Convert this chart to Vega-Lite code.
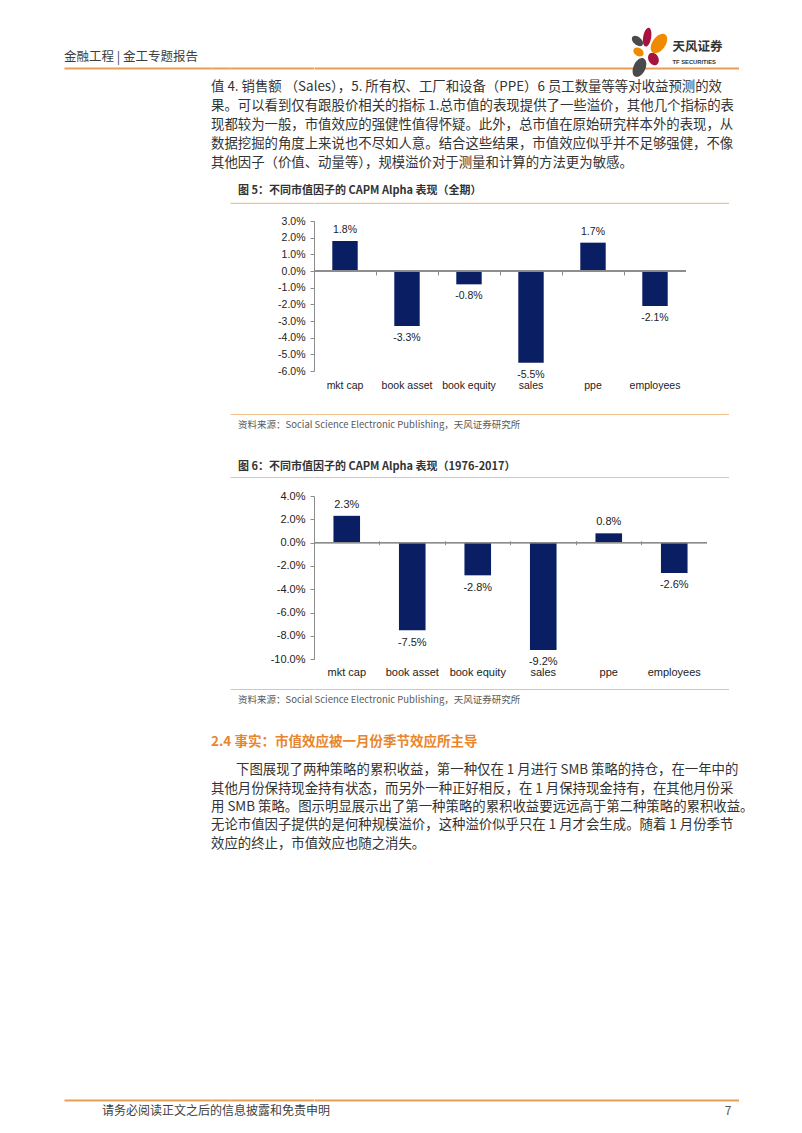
{
  "$schema": "https://vega.github.io/schema/vega-lite/v6.json",
  "background": "white",
  "autosize": {"type": "pad"},
  "padding": {"left": 64, "top": 0, "right": 0, "bottom": 0},
  "config": {
    "view": {"stroke": null},
    "axis": {"labelOverlap": false, "labelSeparation": 0},
    "axisY": {"labelOverlap": false},
    "axisQuantitative": {"labelOverlap": false},
    "locale": {"number": {"decimal": ".", "thousands": ",", "grouping": [3], "currency": ["", ""], "minus": "-"}},
    "text": {"font": "Noto Sans CJK SC"}
  },
  "datasets": {
    "alpha_full": [
      {"factor": "mkt cap", "alpha": 0.018},
      {"factor": "book asset", "alpha": -0.033},
      {"factor": "book equity", "alpha": -0.008},
      {"factor": "sales", "alpha": -0.055},
      {"factor": "ppe", "alpha": 0.017},
      {"factor": "employees", "alpha": -0.021}
    ],
    "alpha_1976": [
      {"factor": "mkt cap", "alpha": 0.023},
      {"factor": "book asset", "alpha": -0.075},
      {"factor": "book equity", "alpha": -0.028},
      {"factor": "sales", "alpha": -0.092},
      {"factor": "ppe", "alpha": 0.008},
      {"factor": "employees", "alpha": -0.026}
    ],
    "para1": [
      {"k": "p", "line": 1, "text": "值 4. 销售额 （Sales），5. 所有权、工厂和设备（PPE）6 员工数量等等对收益预测的效"},
      {"k": "p", "line": 2, "text": "果。可以看到仅有跟股价相关的指标 1.总市值的表现提供了一些溢价，其他几个指标的表"},
      {"k": "p", "line": 3, "text": "现都较为一般，市值效应的强健性值得怀疑。此外，总市值在原始研究样本外的表现，从"},
      {"k": "p", "line": 4, "text": "数据挖掘的角度上来说也不尽如人意。结合这些结果，市值效应似乎并不足够强健，不像"},
      {"k": "p", "line": 5, "text": "其他因子（价值、动量等），规模溢价对于测量和计算的方法更为敏感。"}
    ],
    "para2": [
      {"k": "p", "line": 1, "text": "下图展现了两种策略的累积收益，第一种仅在 1 月进行 SMB 策略的持仓，在一年中的"},
      {"k": "p", "line": 2, "text": "其他月份保持现金持有状态，而另外一种正好相反，在 1 月保持现金持有，在其他月份采"},
      {"k": "p", "line": 3, "text": "用 SMB 策略。图示明显展示出了第一种策略的累积收益要远远高于第二种策略的累积收益。"},
      {"k": "p", "line": 4, "text": "无论市值因子提供的是何种规模溢价，这种溢价似乎只在 1 月才会生成。随着 1 月份季节"},
      {"k": "p", "line": 5, "text": "效应的终止，市值效应也随之消失。"}
    ],
    "logo": [
      {"k": "logo", "part": "crimson"},
      {"k": "logo", "part": "orange"},
      {"k": "logo", "part": "gray"}
    ],
    "seg": [{"k": "s"}]
  },
  "columns": 4,
  "spacing": 0,
  "bounds": "flush",
  "align": "none",
  "concat": [
    {"width": 147, "height": 46, "data": {"values": []}, "mark": "point"},
    {"width": 19, "height": 46, "data": {"values": []}, "mark": "point"},
    {"width": 83.5, "height": 46, "data": {"values": []}, "mark": "point"},
    {"width": 1, "height": 46, "data": {"values": []}, "mark": "point"},

    {
      "width": 147, "height": 22,
      "data": {"values": [{"k": "h", "text": "金融工程 | 金工专题报告"}]},
      "mark": {"type": "text", "align": "left", "font": "Noto Sans CJK SC", "fontSize": 12.5, "color": "#3d3d3d"},
      "encoding": {
        "x": {"field": "k", "type": "nominal", "scale": {"type": "point", "padding": 0, "align": 0}, "axis": {"orient": "bottom", "title": null, "labels": false, "ticks": false, "domain": true, "domainColor": "#E89E52", "domainWidth": 2, "grid": false}},
        "text": {"field": "text"}
      }
    },
    {"width": 19, "height": 22, "data": {"name": "seg"}, "mark": {"type": "text", "text": ""},
      "encoding": {"x": {"field": "k", "type": "nominal", "scale": {"type": "point"}, "axis": {"orient": "bottom", "title": null, "labels": false, "ticks": false, "domain": true, "domainColor": "#E89E52", "domainWidth": 2, "grid": false}}}},
    {"width": 83.5, "height": 22, "data": {"name": "seg"}, "mark": {"type": "text", "text": ""},
      "encoding": {"x": {"field": "k", "type": "nominal", "scale": {"type": "point"}, "axis": {"orient": "bottom", "title": null, "labels": false, "ticks": false, "domain": true, "domainColor": "#E89E52", "domainWidth": 2, "grid": false}}}},
    {
      "width": 424.5, "height": 22,
      "resolve": {"scale": {"x": "independent"}, "axis": {"x": "independent"}},
      "layer": [
        {
          "data": {"name": "logo"},
          "mark": {"type": "point", "filled": true, "opacity": 1, "size": 1600, "strokeWidth": 0},
          "encoding": {
            "x": {"field": "k", "type": "nominal", "scale": {"type": "point", "padding": 0, "align": 0.795}, "axis": {"orient": "bottom", "title": null, "labels": false, "ticks": false, "domain": true, "domainColor": "#E89E52", "domainWidth": 2, "grid": false}},
            "shape": {"field": "part", "type": "nominal", "legend": null, "scale": {"domain": ["crimson", "orange", "gray"], "range": [
              "M -0.1325 -1.4578 A 0.2 0.475 10 0 1 -0.2975 -0.5222 A 0.2 0.475 10 0 1 -0.1325 -1.4578 Z M -0.0625 -0.1815 A 0.25 0.325 -30 0 1 0.2625 0.3815 A 0.25 0.325 -30 0 1 -0.0625 -0.1815 Z",
              "M 0.6905 -1.1256 A 0.325 0.55 35 0 1 0.0595 -0.2244 A 0.325 0.55 35 0 1 0.6905 -1.1256 Z M -0.8882 -0.3875 A 0.2 0.275 -60 0 1 -0.4118 -0.1125 A 0.2 0.275 -60 0 1 -0.8882 -0.3875 Z",
              "M -0.949 -1.0089 A 0.2 0.325 -50 0 1 -0.451 -0.5911 A 0.2 0.325 -50 0 1 -0.949 -1.0089 Z M -0.3887 0.0718 A 0.3 0.5 25 0 1 -0.8113 0.9782 A 0.3 0.5 25 0 1 -0.3887 0.0718 Z"
            ]}},
            "color": {"field": "part", "type": "nominal", "legend": null, "scale": {"domain": ["crimson", "orange", "gray"], "range": ["#A8123E", "#F08A00", "#4A4A4A"]}}
          }
        },
        {
          "data": {"values": [{"k": "l", "cn": "天风证券", "en": "TF SECURITIES"}]},
          "encoding": {
            "x": {"field": "k", "type": "nominal", "scale": {"type": "point", "padding": 0, "align": 0.8445}, "axis": null}
          },
          "layer": [
            {"mark": {"type": "text", "align": "left", "dy": -10, "font": "Noto Sans CJK SC", "fontSize": 12.5, "fontWeight": "bold", "color": "#333333"}, "encoding": {"text": {"field": "cn"}}},
            {"mark": {"type": "text", "align": "left", "dy": 5, "font": "Liberation Sans", "fontSize": 5.8, "fontWeight": "bold", "color": "#333333"}, "encoding": {"text": {"field": "en"}}}
          ]
        }
      ]
    },

    {"width": 147, "height": 113.6, "data": {"values": []}, "mark": "point"},
    {
      "width": 19, "height": 113.6,
      "data": {"name": "para1"},
      "mark": {"type": "text", "align": "left", "font": "Noto Sans CJK SC", "fontSize": 13.4, "color": "#333333"},
      "encoding": {
        "x": {"field": "k", "type": "nominal", "scale": {"type": "point", "padding": 0, "align": 0}, "axis": null},
        "y": {"field": "line", "type": "ordinal", "axis": null, "scale": {"type": "point", "padding": 1.087}},
        "text": {"field": "text"}
      }
    },
    {"width": 83.5, "height": 113.6, "data": {"values": []}, "mark": "point"},
    {"width": 1, "height": 113.6, "data": {"values": []}, "mark": "point"},

    {"width": 147, "height": 20.9, "data": {"values": []}, "mark": "point"},
    {"width": 19, "height": 20.9, "data": {"values": []}, "mark": "point"},
    {
      "width": 83.5, "height": 20.9,
      "data": {"values": [{"k": "t", "text": "图 5：不同市值因子的 CAPM Alpha 表现（全期）"}]},
      "mark": {"type": "text", "align": "left", "dx": 8, "dy": -1, "font": "Noto Sans CJK SC", "fontSize": 11, "fontWeight": "bold", "color": "#333333"},
      "encoding": {
        "x": {"field": "k", "type": "nominal", "scale": {"type": "point", "padding": 0, "align": 0}, "axis": {"orient": "bottom", "title": null, "labels": false, "ticks": false, "domain": true, "domainColor": "#F2C08F", "domainWidth": 1.2, "grid": false}},
        "text": {"field": "text"}
      }
    },
    {"width": 414.5, "height": 20.9, "data": {"name": "seg"}, "mark": {"type": "text", "text": ""},
      "encoding": {"x": {"field": "k", "type": "nominal", "scale": {"type": "point"}, "axis": {"orient": "bottom", "title": null, "labels": false, "ticks": false, "domain": true, "domainColor": "#F2C08F", "domainWidth": 1.2, "grid": false}}}},

    {"width": 147, "height": 17.5, "data": {"values": []}, "mark": "point"},
    {"width": 19, "height": 17.5, "data": {"values": []}, "mark": "point"},
    {"width": 83.5, "height": 17.5, "data": {"values": []}, "mark": "point"},
    {"width": 1, "height": 17.5, "data": {"values": []}, "mark": "point"},

    {"width": 147, "height": 150, "data": {"values": []}, "mark": "point"},
    {"width": 19, "height": 150, "data": {"values": []}, "mark": "point"},
    {"width": 83.5, "height": 150, "data": {"values": []}, "mark": "point"},
    {
      "width": 372, "height": 150,
      "data": {"name": "alpha_full"},
      "resolve": {"axis": {"x": "independent"}},
      "layer": [
        {
          "mark": {"type": "bar", "color": "#0A1E64"},
          "encoding": {
            "x": {"field": "factor", "type": "nominal", "sort": null,
              "scale": {"domain": ["mkt cap", "book asset", "book equity", "sales", "ppe", "employees"], "paddingInner": 0.59, "paddingOuter": 0.295},
              "axis": {"orient": "bottom", "title": null, "domain": false, "ticks": false, "tickSize": 0, "labelPadding": 14, "labelBaseline": "middle", "labelAngle": 0, "labelFont": "Liberation Sans", "labelFontSize": 10.5, "labelColor": "#222222", "grid": false}},
            "y": {"field": "alpha", "type": "quantitative",
              "scale": {"domain": [-0.06, 0.03], "nice": false},
              "axis": {"title": null, "format": ".1%", "values": [-0.06, -0.05, -0.04, -0.03, -0.02, -0.01, 0, 0.01, 0.02, 0.03], "labelOverlap": false, "labelFlush": false, "grid": false, "domainColor": "#8C8C8C", "tickColor": "#8C8C8C", "tickSize": 4, "labelPadding": 5, "labelFont": "Liberation Sans", "labelFontSize": 10.5, "labelColor": "#222222"}}
          }
        },
        {"mark": {"type": "rule", "color": "#8C8C8C", "strokeWidth": 1}, "encoding": {"y": {"datum": 0, "type": "quantitative", "axis": {"title": null, "format": ".1%", "values": [-0.06, -0.05, -0.04, -0.03, -0.02, -0.01, 0, 0.01, 0.02, 0.03], "labelOverlap": false, "labelFlush": false, "grid": false, "domainColor": "#8C8C8C", "tickColor": "#8C8C8C", "tickSize": 4, "labelPadding": 5, "labelFont": "Liberation Sans", "labelFontSize": 10.5, "labelColor": "#222222"}}}},
        {
          "transform": [{"filter": "datum.alpha >= 0"}],
          "mark": {"type": "text", "dy": -11, "font": "Liberation Sans", "fontSize": 10.5, "color": "#222222"},
          "encoding": {
            "x": {"field": "factor", "type": "nominal", "sort": null, "axis": {"orient": "bottom", "offset": -100, "title": null, "labels": false, "domain": false, "ticks": true, "tickSize": 4, "tickColor": "#8C8C8C", "bandPosition": -0.7195, "grid": false}},
            "y": {"field": "alpha", "type": "quantitative", "axis": {"title": null, "format": ".1%", "values": [-0.06, -0.05, -0.04, -0.03, -0.02, -0.01, 0, 0.01, 0.02, 0.03], "labelOverlap": false, "labelFlush": false, "grid": false, "domainColor": "#8C8C8C", "tickColor": "#8C8C8C", "tickSize": 4, "labelPadding": 5, "labelFont": "Liberation Sans", "labelFontSize": 10.5, "labelColor": "#222222"}},
            "text": {"field": "alpha", "type": "quantitative", "format": ".1%"}
          }
        },
        {
          "transform": [{"filter": "datum.alpha < 0"}],
          "mark": {"type": "text", "dy": 12, "font": "Liberation Sans", "fontSize": 10.5, "color": "#222222"},
          "encoding": {
            "x": {"field": "factor", "type": "nominal", "sort": null, "axis": null},
            "y": {"field": "alpha", "type": "quantitative", "axis": {"title": null, "format": ".1%", "values": [-0.06, -0.05, -0.04, -0.03, -0.02, -0.01, 0, 0.01, 0.02, 0.03], "labelOverlap": false, "labelFlush": false, "grid": false, "domainColor": "#8C8C8C", "tickColor": "#8C8C8C", "tickSize": 4, "labelPadding": 5, "labelFont": "Liberation Sans", "labelFontSize": 10.5, "labelColor": "#222222"}},
            "text": {"field": "alpha", "type": "quantitative", "format": ".1%"}
          }
        }
      ]
    },

    {"width": 147, "height": 43, "data": {"values": []}, "mark": "point"},
    {"width": 19, "height": 43, "data": {"values": []}, "mark": "point"},
    {"width": 83.5, "height": 43, "data": {"values": []}, "mark": "point"},
    {"width": 1, "height": 43, "data": {"values": []}, "mark": "point"},

    {"width": 147, "height": 21, "data": {"values": []}, "mark": "point"},
    {"width": 19, "height": 21, "data": {"values": []}, "mark": "point"},
    {
      "width": 83.5, "height": 21,
      "data": {"values": [{"k": "s", "text": "资料来源：Social Science Electronic Publishing，天风证券研究所"}]},
      "mark": {"type": "text", "align": "left", "dx": 8, "font": "Noto Sans CJK SC", "fontSize": 9.5, "color": "#595959"},
      "encoding": {
        "x": {"field": "k", "type": "nominal", "scale": {"type": "point", "padding": 0, "align": 0}, "axis": {"orient": "top", "title": null, "labels": false, "ticks": false, "domain": true, "domainColor": "#F2C08F", "domainWidth": 1.2, "grid": false}},
        "text": {"field": "text"}
      }
    },
    {"width": 414.5, "height": 21, "data": {"name": "seg"}, "mark": {"type": "text", "text": ""},
      "encoding": {"x": {"field": "k", "type": "nominal", "scale": {"type": "point"}, "axis": {"orient": "top", "title": null, "labels": false, "ticks": false, "domain": true, "domainColor": "#F2C08F", "domainWidth": 1.2, "grid": false}}}},

    {"width": 147, "height": 21, "data": {"values": []}, "mark": "point"},
    {"width": 19, "height": 21, "data": {"values": []}, "mark": "point"},
    {"width": 83.5, "height": 21, "data": {"values": []}, "mark": "point"},
    {"width": 1, "height": 21, "data": {"values": []}, "mark": "point"},

    {"width": 147, "height": 21, "data": {"values": []}, "mark": "point"},
    {"width": 19, "height": 21, "data": {"values": []}, "mark": "point"},
    {
      "width": 83.5, "height": 21,
      "data": {"values": [{"k": "t", "text": "图 6：不同市值因子的 CAPM Alpha 表现（1976-2017）"}]},
      "mark": {"type": "text", "align": "left", "dx": 8, "font": "Noto Sans CJK SC", "fontSize": 11, "fontWeight": "bold", "color": "#333333"},
      "encoding": {
        "x": {"field": "k", "type": "nominal", "scale": {"type": "point", "padding": 0, "align": 0}, "axis": {"orient": "bottom", "title": null, "labels": false, "ticks": false, "domain": true, "domainColor": "#F2C08F", "domainWidth": 1.2, "grid": false}},
        "text": {"field": "text"}
      }
    },
    {"width": 414.5, "height": 21, "data": {"name": "seg"}, "mark": {"type": "text", "text": ""},
      "encoding": {"x": {"field": "k", "type": "nominal", "scale": {"type": "point"}, "axis": {"orient": "bottom", "title": null, "labels": false, "ticks": false, "domain": true, "domainColor": "#F2C08F", "domainWidth": 1.2, "grid": false}}}},

    {"width": 147, "height": 19, "data": {"values": []}, "mark": "point"},
    {"width": 19, "height": 19, "data": {"values": []}, "mark": "point"},
    {"width": 83.5, "height": 19, "data": {"values": []}, "mark": "point"},
    {"width": 1, "height": 19, "data": {"values": []}, "mark": "point"},

    {"width": 147, "height": 163.3, "data": {"values": []}, "mark": "point"},
    {"width": 19, "height": 163.3, "data": {"values": []}, "mark": "point"},
    {"width": 83.5, "height": 163.3, "data": {"values": []}, "mark": "point"},
    {
      "width": 393, "height": 163.3,
      "data": {"name": "alpha_1976"},
      "resolve": {"axis": {"x": "independent"}},
      "layer": [
        {
          "mark": {"type": "bar", "color": "#0A1E64"},
          "encoding": {
            "x": {"field": "factor", "type": "nominal", "sort": null,
              "scale": {"domain": ["mkt cap", "book asset", "book equity", "sales", "ppe", "employees"], "paddingInner": 0.594, "paddingOuter": 0.297},
              "axis": {"orient": "bottom", "title": null, "domain": false, "ticks": false, "tickSize": 0, "labelPadding": 13.4, "labelBaseline": "middle", "labelAngle": 0, "labelFont": "Liberation Sans", "labelFontSize": 11, "labelColor": "#222222", "grid": false}},
            "y": {"field": "alpha", "type": "quantitative",
              "scale": {"domain": [-0.1, 0.04], "nice": false},
              "axis": {"title": null, "format": ".1%", "values": [-0.1, -0.08, -0.06, -0.04, -0.02, 0, 0.02, 0.04], "labelOverlap": false, "labelFlush": false, "grid": false, "domainColor": "#8C8C8C", "tickColor": "#8C8C8C", "tickSize": 4, "labelPadding": 5, "labelFont": "Liberation Sans", "labelFontSize": 11, "labelColor": "#222222"}}
          }
        },
        {"mark": {"type": "rule", "color": "#8C8C8C", "strokeWidth": 1}, "encoding": {"y": {"datum": 0, "type": "quantitative", "axis": {"title": null, "format": ".1%", "values": [-0.1, -0.08, -0.06, -0.04, -0.02, 0, 0.02, 0.04], "labelOverlap": false, "labelFlush": false, "grid": false, "domainColor": "#8C8C8C", "tickColor": "#8C8C8C", "tickSize": 4, "labelPadding": 5, "labelFont": "Liberation Sans", "labelFontSize": 11, "labelColor": "#222222"}}}},
        {
          "transform": [{"filter": "datum.alpha >= 0"}],
          "mark": {"type": "text", "dy": -11, "font": "Liberation Sans", "fontSize": 11, "color": "#222222"},
          "encoding": {
            "x": {"field": "factor", "type": "nominal", "sort": null, "axis": {"orient": "bottom", "offset": -118.6, "title": null, "labels": false, "domain": false, "ticks": true, "tickSize": 4, "tickColor": "#8C8C8C", "bandPosition": -0.7315, "grid": false}},
            "y": {"field": "alpha", "type": "quantitative", "axis": {"title": null, "format": ".1%", "values": [-0.1, -0.08, -0.06, -0.04, -0.02, 0, 0.02, 0.04], "labelOverlap": false, "labelFlush": false, "grid": false, "domainColor": "#8C8C8C", "tickColor": "#8C8C8C", "tickSize": 4, "labelPadding": 5, "labelFont": "Liberation Sans", "labelFontSize": 11, "labelColor": "#222222"}},
            "text": {"field": "alpha", "type": "quantitative", "format": ".1%"}
          }
        },
        {
          "transform": [{"filter": "datum.alpha < 0"}],
          "mark": {"type": "text", "dy": 12.5, "font": "Liberation Sans", "fontSize": 11, "color": "#222222"},
          "encoding": {
            "x": {"field": "factor", "type": "nominal", "sort": null, "axis": null},
            "y": {"field": "alpha", "type": "quantitative", "axis": {"title": null, "format": ".1%", "values": [-0.1, -0.08, -0.06, -0.04, -0.02, 0, 0.02, 0.04], "labelOverlap": false, "labelFlush": false, "grid": false, "domainColor": "#8C8C8C", "tickColor": "#8C8C8C", "tickSize": 4, "labelPadding": 5, "labelFont": "Liberation Sans", "labelFontSize": 11, "labelColor": "#222222"}},
            "text": {"field": "alpha", "type": "quantitative", "format": ".1%"}
          }
        }
      ]
    },

    {"width": 147, "height": 28.7, "data": {"values": []}, "mark": "point"},
    {"width": 19, "height": 28.7, "data": {"values": []}, "mark": "point"},
    {"width": 83.5, "height": 28.7, "data": {"values": []}, "mark": "point"},
    {"width": 1, "height": 28.7, "data": {"values": []}, "mark": "point"},

    {"width": 147, "height": 22, "data": {"values": []}, "mark": "point"},
    {"width": 19, "height": 22, "data": {"values": []}, "mark": "point"},
    {
      "width": 83.5, "height": 22,
      "data": {"values": [{"k": "s", "text": "资料来源：Social Science Electronic Publishing，天风证券研究所"}]},
      "mark": {"type": "text", "align": "left", "dx": 8, "font": "Noto Sans CJK SC", "fontSize": 9.5, "color": "#595959"},
      "encoding": {
        "x": {"field": "k", "type": "nominal", "scale": {"type": "point", "padding": 0, "align": 0}, "axis": {"orient": "top", "title": null, "labels": false, "ticks": false, "domain": true, "domainColor": "#F2C08F", "domainWidth": 1.2, "grid": false}},
        "text": {"field": "text"}
      }
    },
    {"width": 414.5, "height": 22, "data": {"name": "seg"}, "mark": {"type": "text", "text": ""},
      "encoding": {"x": {"field": "k", "type": "nominal", "scale": {"type": "point"}, "axis": {"orient": "top", "title": null, "labels": false, "ticks": false, "domain": true, "domainColor": "#F2C08F", "domainWidth": 1.2, "grid": false}}}},

    {"width": 147, "height": 20, "data": {"values": []}, "mark": "point"},
    {"width": 19, "height": 20, "data": {"values": []}, "mark": "point"},
    {"width": 83.5, "height": 20, "data": {"values": []}, "mark": "point"},
    {"width": 1, "height": 20, "data": {"values": []}, "mark": "point"},

    {"width": 147, "height": 22, "data": {"values": []}, "mark": "point"},
    {
      "width": 19, "height": 22,
      "data": {"values": [{"k": "h", "text": "2.4 事实：市值效应被一月份季节效应所主导"}]},
      "mark": {"type": "text", "align": "left", "font": "Noto Sans CJK SC", "fontSize": 13.5, "fontWeight": "bold", "color": "#E7862E"},
      "encoding": {
        "x": {"field": "k", "type": "nominal", "scale": {"type": "point", "padding": 0, "align": 0}, "axis": null},
        "text": {"field": "text"}
      }
    },
    {"width": 83.5, "height": 22, "data": {"values": []}, "mark": "point"},
    {"width": 1, "height": 22, "data": {"values": []}, "mark": "point"},

    {"width": 147, "height": 108.1, "data": {"values": []}, "mark": "point"},
    {
      "width": 19, "height": 108.1,
      "data": {"name": "para2"},
      "encoding": {
        "x": {"field": "k", "type": "nominal", "scale": {"type": "point", "padding": 0, "align": 0}, "axis": null},
        "y": {"field": "line", "type": "ordinal", "axis": null, "scale": {"type": "point", "padding": 0.9375, "domain": [1, 2, 3, 4, 5]}},
        "text": {"field": "text"}
      },
      "layer": [
        {"transform": [{"filter": "datum.line == 1"}], "mark": {"type": "text", "align": "left", "dx": 25, "font": "Noto Sans CJK SC", "fontSize": 13.4, "color": "#333333"}},
        {"transform": [{"filter": "datum.line != 1"}], "mark": {"type": "text", "align": "left", "font": "Noto Sans CJK SC", "fontSize": 13.4, "color": "#333333"}}
      ]
    },
    {"width": 83.5, "height": 108.1, "data": {"values": []}, "mark": "point"},
    {"width": 1, "height": 108.1, "data": {"values": []}, "mark": "point"},

    {"width": 147, "height": 237.9, "data": {"values": []}, "mark": "point"},
    {"width": 19, "height": 237.9, "data": {"values": []}, "mark": "point"},
    {"width": 83.5, "height": 237.9, "data": {"values": []}, "mark": "point"},
    {"width": 1, "height": 237.9, "data": {"values": []}, "mark": "point"},

    {
      "width": 147, "height": 22,
      "data": {"values": [{"k": "f", "text": "请务必阅读正文之后的信息披露和免责申明"}]},
      "mark": {"type": "text", "align": "left", "font": "Noto Sans CJK SC", "fontSize": 12, "color": "#404040"},
      "encoding": {
        "x": {"field": "k", "type": "nominal", "scale": {"type": "point", "padding": 0, "align": 0.2585}, "axis": {"orient": "top", "title": null, "labels": false, "ticks": false, "domain": true, "domainColor": "#E89E52", "domainWidth": 2, "grid": false}},
        "text": {"field": "text"}
      }
    },
    {"width": 19, "height": 22, "data": {"name": "seg"}, "mark": {"type": "text", "text": ""},
      "encoding": {"x": {"field": "k", "type": "nominal", "scale": {"type": "point"}, "axis": {"orient": "top", "title": null, "labels": false, "ticks": false, "domain": true, "domainColor": "#E89E52", "domainWidth": 2, "grid": false}}}},
    {"width": 83.5, "height": 22, "data": {"name": "seg"}, "mark": {"type": "text", "text": ""},
      "encoding": {"x": {"field": "k", "type": "nominal", "scale": {"type": "point"}, "axis": {"orient": "top", "title": null, "labels": false, "ticks": false, "domain": true, "domainColor": "#E89E52", "domainWidth": 2, "grid": false}}}},
    {
      "width": 424.5, "height": 22,
      "data": {"values": [{"k": "p", "text": "7"}]},
      "mark": {"type": "text", "align": "right", "dx": -7, "font": "Noto Sans CJK SC", "fontSize": 12, "color": "#595959"},
      "encoding": {
        "x": {"field": "k", "type": "nominal", "scale": {"type": "point", "padding": 0, "align": 1}, "axis": {"orient": "top", "title": null, "labels": false, "ticks": false, "domain": true, "domainColor": "#E89E52", "domainWidth": 2, "grid": false}},
        "text": {"field": "text"}
      }
    }
  ]
}
